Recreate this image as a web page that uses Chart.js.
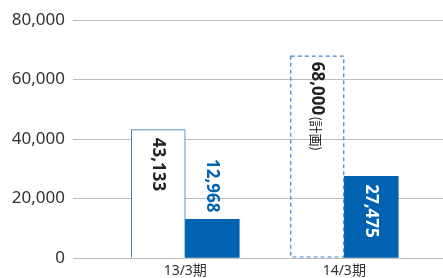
<!DOCTYPE html>
<html lang="ja">
<head>
    <meta charset="UTF-8">
    <title>Chart</title>
    <script src="https://cdn.jsdelivr.net/npm/chart.js"></script>
    <style>
        body { margin: 0; background: #fff; }
        #wrap { width: 443px; height: 278px; }
    </style>
</head>
<body>
<div id="wrap"><canvas id="chart" width="443" height="278"></canvas></div>
<script>
    // data
    const periods = ['13/3期', '14/3期'];
    const actualOutline = [43133, null];   // white box, solid border
    const planOutline = [null, 68000];     // dashed box (plan)
    const blueValues = [12968, 27475];     // filled blue bars
    const planSuffix = '(計画)';
    const yTicks = [0, 20000, 40000, 60000, 80000];

    const BLUE = '#0062b1';
    const fmt = v => v.toLocaleString('en-US');
    const numFont = "'Noto Sans', 'Noto Sans CJK JP', sans-serif";
    const cjkFont = "'Noto Sans CJK JP', 'Noto Sans', sans-serif";

    // dashed border for the plan bar + rotated value labels
    const barExtras = {
        id: 'barExtras',
        afterDatasetsDraw(chart) {
            const ctx = chart.ctx;
            chart.data.datasets.forEach((ds, di) => {
                const meta = chart.getDatasetMeta(di);
                meta.data.forEach((bar, i) => {
                    const raw = ds.data[i];
                    if (raw == null || raw.y == null) return;
                    const v = raw.y;
                    const p = bar.getProps(['x', 'y', 'base', 'width'], true);
                    const left = p.x - p.width / 2;
                    ctx.save();
                    if (ds.kind === 'plan') {
                        ctx.strokeStyle = '#3a86cc';
                        ctx.lineWidth = 1.2;
                        ctx.setLineDash([4, 3]);
                        ctx.strokeRect(left + 0.5, p.y + 0.5, p.width - 1, p.base - p.y - 1);
                        ctx.setLineDash([]);
                    }
                    ctx.translate(p.x, 0);
                    ctx.textBaseline = 'middle';
                    ctx.font = 'bold 17px ' + numFont;
                    const txt = fmt(v);
                    const tw = ctx.measureText(txt).width;
                    if (ds.kind === 'actual') {
                        ctx.fillStyle = '#222';
                        ctx.translate(0, p.y + 8);
                        ctx.rotate(Math.PI / 2);
                        ctx.fillText(txt, 0, 0);
                    } else if (ds.kind === 'plan') {
                        ctx.fillStyle = '#222';
                        ctx.translate(0, p.y + 6);
                        ctx.rotate(Math.PI / 2);
                        ctx.fillText(txt, 0, 0);
                        ctx.font = '13px ' + cjkFont;
                        ctx.fillText(planSuffix, tw + 1, 1);
                    } else {
                        const h = p.base - p.y;
                        if (h > tw + 14) {
                            ctx.fillStyle = '#fff';
                            ctx.translate(0, p.y + 8);
                        } else {
                            ctx.fillStyle = BLUE;
                            ctx.translate(0, p.y - 7 - tw);
                        }
                        ctx.rotate(Math.PI / 2);
                        ctx.fillText(txt, 0, 0);
                    }
                    ctx.restore();
                });
            });
        }
    };

    const toPoints = arr => arr.map((v, i) => ({ x: i, y: v }));

    new Chart(document.getElementById('chart'), {
        type: 'bar',
        data: {
            datasets: [
                {
                    kind: 'actual',
                    data: toPoints(actualOutline),
                    backgroundColor: '#fff',
                    borderColor: '#2f78c2',
                    borderWidth: 1,
                    skipNull: true,
                    barThickness: 54
                },
                {
                    kind: 'plan',
                    data: toPoints(planOutline),
                    backgroundColor: 'rgba(0,0,0,0)',
                    borderWidth: 0,
                    skipNull: true,
                    barThickness: 54
                },
                {
                    kind: 'blue',
                    data: toPoints(blueValues),
                    backgroundColor: BLUE,
                    borderWidth: 0,
                    skipNull: true,
                    barThickness: 54
                }
            ]
        },
        options: {
            responsive: false,
            animation: false,
            layout: { padding: { top: 20, right: 0, left: 0, bottom: 0 } },
            plugins: {
                legend: { display: false },
                tooltip: { enabled: false }
            },
            scales: {
                x: {
                    type: 'linear',
                    offset: false,
                    min: -0.706,
                    max: 1.621,
                    afterBuildTicks: s => { s.ticks = periods.map((_, i) => ({ value: i })); },
                    afterFit: s => { s.height = 20; },
                    grid: { display: false, offset: false },
                    border: { display: false },
                    ticks: {
                        autoSkip: false,
                        maxRotation: 0,
                        padding: -2,
                        color: '#333',
                        font: { family: numFont, size: 14, lineHeight: 1 },
                        callback: v => periods[v]
                    }
                },
                y: {
                    min: 0,
                    max: 80000,
                    afterBuildTicks: s => { s.ticks = yTicks.map(v => ({ value: v })); },
                    afterFit: s => { s.width = 73; },
                    border: { display: false },
                    grid: { color: '#bdbdbd', lineWidth: 1, drawTicks: false },
                    ticks: {
                        padding: 8,
                        color: '#333',
                        font: { family: numFont, size: 17 },
                        callback: v => fmt(v)
                    }
                }
            }
        },
        plugins: [barExtras]
    });
</script>
</body>
</html>
